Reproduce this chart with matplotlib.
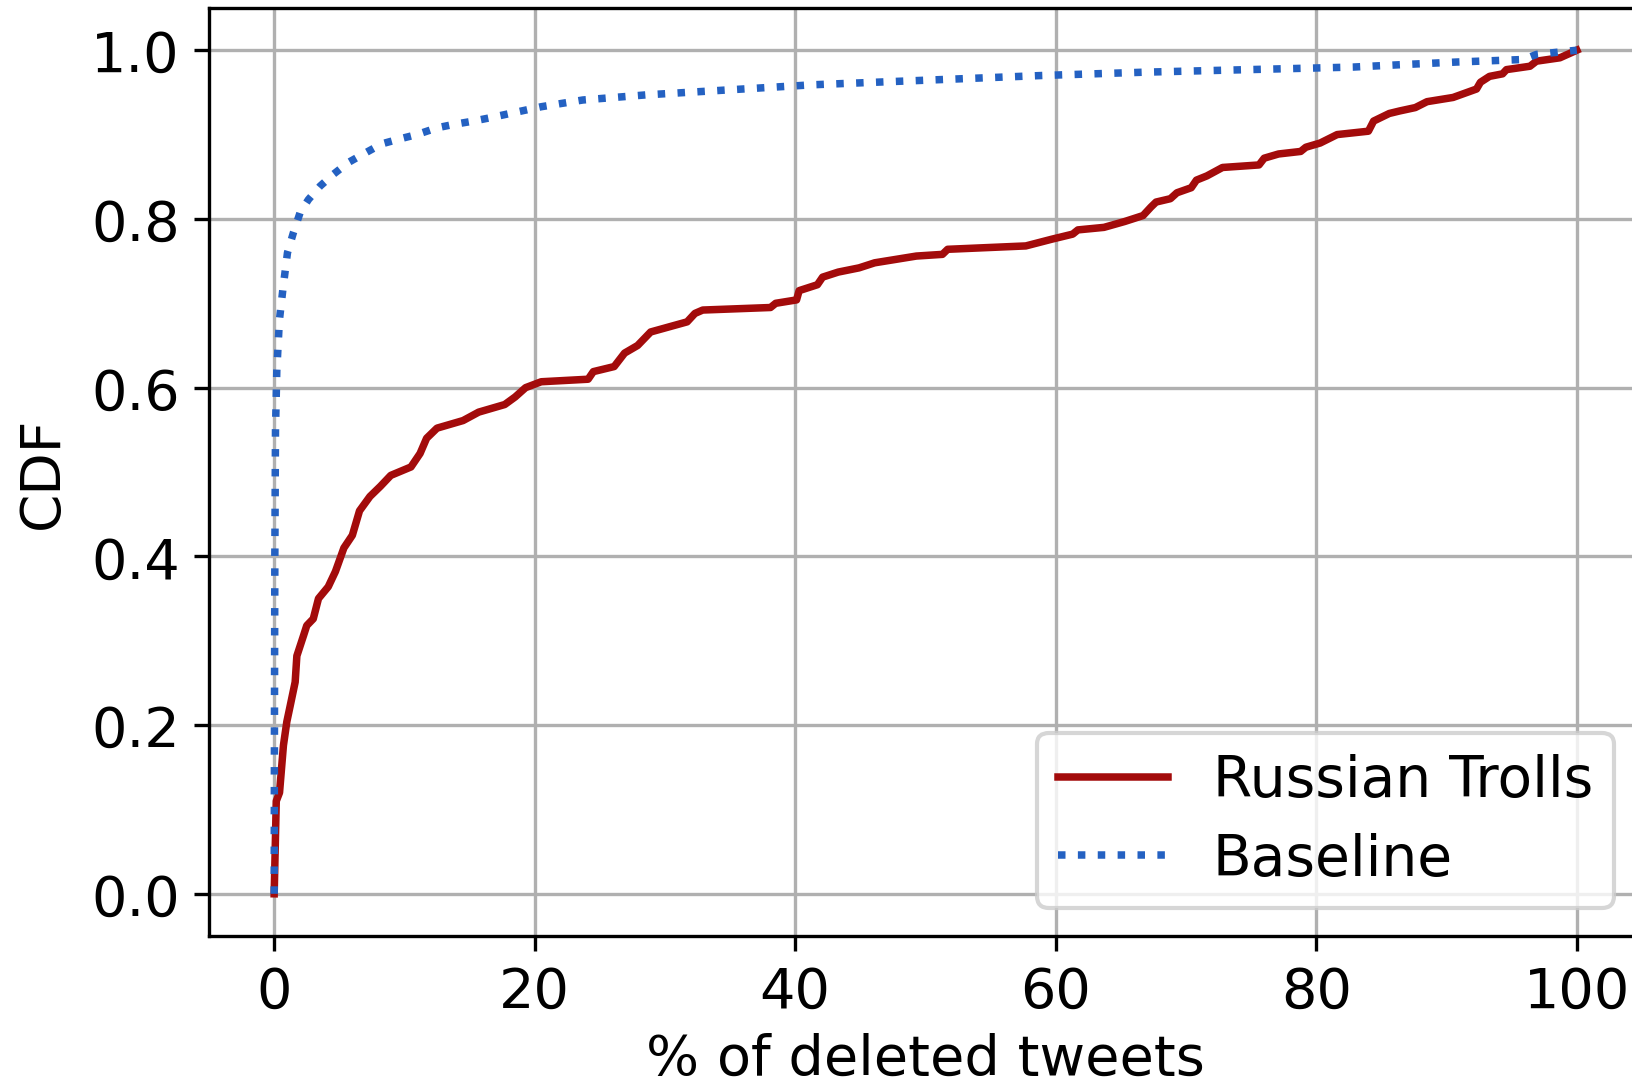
import matplotlib
matplotlib.use("Agg")
import matplotlib.pyplot as plt

# Russian Trolls CDF (x = % of deleted tweets, y = CDF)
troll_x = [0, 0.16, 0.41, 0.71, 0.97, 1.23, 1.61, 1.74, 2.25, 2.5, 3.0, 3.4, 4.15, 4.7, 5.35,
           6.0, 6.55, 7.35, 8.15, 8.95, 10.5, 11.2, 11.7, 12.5, 14.5, 15.7, 17.7, 18.5, 19.3,
           20.5, 24.1, 24.5, 26.1, 26.9, 27.9, 28.9, 31.7, 32.3, 32.9, 38.1, 38.5, 40.1, 40.3,
           41.7, 42.1, 43.3, 44.9, 46.1, 49.3, 51.3, 51.7, 57.7, 59.7, 61.3, 61.7, 63.7, 65.3,
           66.7, 67.3, 67.7, 68.8, 69.3, 70.4, 70.8, 71.6, 72.8, 75.6, 76.0, 77.1, 78.8, 79.2,
           80.3, 81.6, 84.0, 84.4, 85.6, 86.4, 87.6, 88.5, 90.5, 92.3, 92.6, 93.3, 94.3, 94.6,
           96.4, 96.9, 98.7, 100]
troll_y = [0, 0.11, 0.12, 0.176, 0.204, 0.223, 0.251, 0.282, 0.306, 0.318, 0.326, 0.35, 0.364,
           0.382, 0.41, 0.425, 0.454, 0.471, 0.483, 0.496, 0.506, 0.522, 0.54, 0.552, 0.561,
           0.571, 0.58, 0.589, 0.60, 0.607, 0.61, 0.619, 0.625, 0.641, 0.65, 0.666, 0.678,
           0.688, 0.692, 0.695, 0.70, 0.704, 0.715, 0.722, 0.731, 0.737, 0.742, 0.748, 0.756,
           0.758, 0.764, 0.768, 0.776, 0.782, 0.787, 0.79, 0.797, 0.804, 0.814, 0.82, 0.824,
           0.831, 0.837, 0.846, 0.851, 0.861, 0.864, 0.872, 0.877, 0.880, 0.885, 0.89, 0.90,
           0.904, 0.916, 0.925, 0.928, 0.932, 0.939, 0.944, 0.954, 0.962, 0.969, 0.972, 0.977,
           0.981, 0.987, 0.991, 1.0]

# Baseline CDF
base_x = [0, 0.02, 0.05, 0.1, 0.2, 0.4, 0.67, 1.02, 1.48, 2.0, 2.63, 3.53, 4.55, 5.7, 6.85,
          8.26, 9.67, 10.95, 12.5, 13.76, 15.3, 16.6, 20.5, 23.7, 28.5, 34.9, 41.3, 50.9, 58.9,
          66.9, 74.8, 82.8, 86.7, 90.8, 95.9, 96.9, 100]
base_y = [0, 0.2, 0.4, 0.55, 0.62, 0.68, 0.717, 0.76, 0.784, 0.808, 0.823, 0.839, 0.853, 0.867,
          0.877, 0.889, 0.895, 0.9, 0.908, 0.912, 0.916, 0.92, 0.933, 0.941, 0.947, 0.953, 0.959,
          0.965, 0.97, 0.974, 0.977, 0.98, 0.983, 0.986, 0.989, 0.995, 1.0]

labels = ["Russian Trolls", "Baseline"]
x_ticks = [0, 20, 40, 60, 80, 100]
y_ticks = [0.0, 0.2, 0.4, 0.6, 0.8, 1.0]

fig = plt.figure(figsize=(5.44, 3.6233), dpi=300)
ax = fig.add_axes([0.1281, 0.138, 0.878, 0.8537])
ax.plot(troll_x, troll_y, color="#a30b0b", lw=1.8, ls="-", label=labels[0])
ax.plot(base_x, base_y, color="#2461c2", lw=1.8, ls=":", label=labels[1])
ax.set_xlim(-5, 105)
ax.set_ylim(-0.05, 1.05)
ax.set_xticks(x_ticks)
ax.set_yticks(y_ticks)
ax.set_yticklabels([f"{v:.1f}" for v in y_ticks])
ax.tick_params(labelsize=13.4)
ax.grid(True, color="#b0b0b0", lw=0.8)
ax.set_axisbelow(True)
ax.set_xlabel("% of deleted tweets", fontsize=13.4, labelpad=3)
ax.set_ylabel("CDF", fontsize=13.2, labelpad=5)
ax.legend(loc="lower right", fontsize=13.6, labelspacing=0.42, borderpad=0.36,
          handlelength=1.94)
fig.savefig("out.png", dpi=300)
